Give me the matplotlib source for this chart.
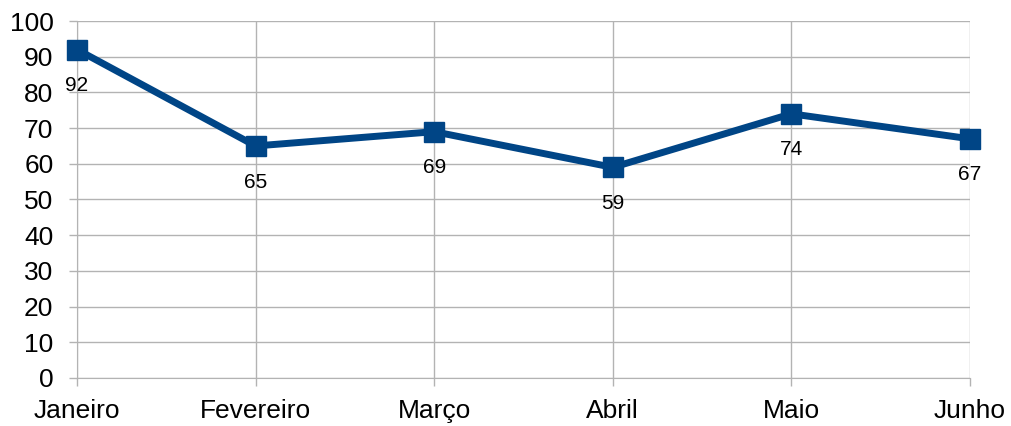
import matplotlib.pyplot as plt

meses = ["Janeiro", "Fevereiro", "Março", "Abril", "Maio", "Junho"]
valores = [92, 65, 69, 59, 74, 67]

plt.rcParams['font.family'] = ['Liberation Sans', 'DejaVu Sans']

fig = plt.figure(figsize=(10.11, 4.26), dpi=100)
ax = fig.add_axes([0.0762, 0.1127, 0.8832, 0.838])

x = list(range(len(meses)))
ax.plot(x, valores, color='#004586', linewidth=5, marker='s',
        markersize=14.5, clip_on=False, zorder=3)

# rótulos de dados abaixo dos pontos
for xi, v in zip(x, valores):
    ax.annotate(str(v), (xi, v), xytext=(0, -26), textcoords='offset points',
                ha='center', va='center', fontsize=15, color='black')

ax.set_xlim(0, len(meses) - 1)
ax.set_ylim(0, 100)
ax.set_yticks(range(0, 101, 10))
ax.set_xticks(x)
ax.set_xticklabels(meses)

ax.grid(True, color='#b3b3b3', linewidth=1)
ax.set_axisbelow(True)
for s in ax.spines.values():
    s.set_visible(False)
ax.spines['left'].set_visible(True)
ax.spines['bottom'].set_visible(True)
ax.spines['left'].set_color('#b3b3b3')
ax.spines['bottom'].set_color('#b3b3b3')

ax.tick_params(axis='both', colors='#b3b3b3', labelcolor='black',
               labelsize=19, length=6, width=1)
ax.tick_params(axis='y', pad=11)
ax.tick_params(axis='x', pad=9)

fig.savefig("out.png", dpi=100)
